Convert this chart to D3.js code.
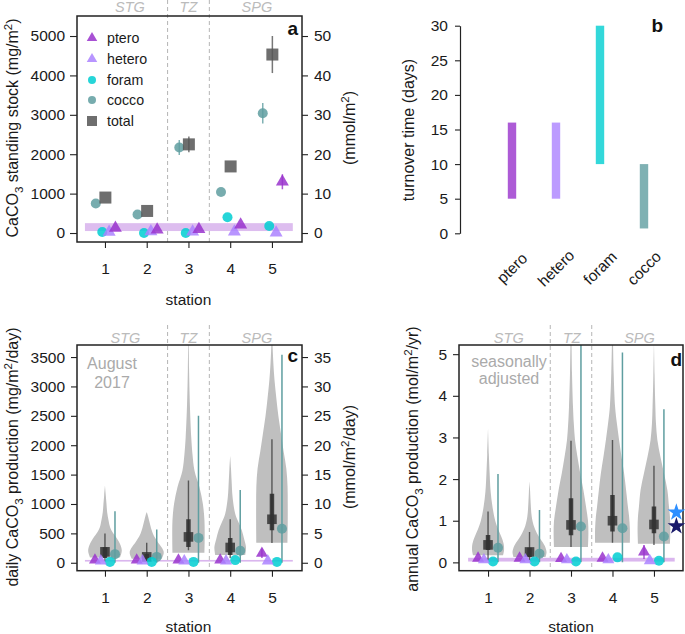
<!DOCTYPE html>
<html><head><meta charset="utf-8">
<script src="https://cdn.jsdelivr.net/npm/d3@7"></script>
<style>body{margin:0;background:#fff} text{font-family:"Liberation Sans",Arial,Helvetica,sans-serif}</style>
</head><body><svg id="chart" width="685" height="634"></svg>
<script>
// ---------------- DATA ----------------
const stations = [1, 2, 3, 4, 5];
const regionNames = ["STG", "TZ", "SPG"];
const regionBounds = [2.5, 3.5];
const species = ["ptero", "hetero", "foram", "cocco", "total"];

// panel a: standing stock (mg/m2)
const aPtero = [130, 80, 95, 210, 1300];
const aPteroErr = [0, 0, 0, 0, 190];
const aHetero = [25, 40, 35, 30, 5];
const aForam = [25, 0, 0, 400, 180];
const aCocco = [750, 470, 2170, 1040, 3040];
const aCoccoErr = [0, 0, 190, 0, 260];
const aTotal = [900, 560, 2250, 1690, 4530];
const aTotalErr = [0, 0, 200, 0, 470];
const aBand = [50, 250];
const aTicks = [0, 1000, 2000, 3000, 4000, 5000];
const aTicksR = [0, 10, 20, 30, 40, 50];

// panel b: turnover time (days)
const bCats = ["ptero", "hetero", "foram", "cocco"];
const bLow = [5, 5, 10, 0.7];
const bHigh = [16, 16, 30, 10];
const bTicks = [0, 5, 10, 15, 20, 25, 30];

// panel c: daily production (mg/m2/day); violin profiles [value, relative density]
const cViolins = [
  [[90,.75],[160,.82],[215,.84],[300,.78],[380,.66],[440,.55],[520,.38],[600,.26],[720,.18],[860,.11],[1010,.075],[1150,.04],[1314,0]],
  [[70,.75],[130,.83],[186,.85],[260,.75],[355,.55],[450,.37],[553,.25],[720,.12],[800,.06],[862,0]],
  [[170,.8],[400,.81],[720,.8],[1005,.72],[1285,.55],[1570,.3],[1850,.2],[2130,.14],[2700,.07],[3300,.03],[3900,.01]],
  [[130,.75],[200,.78],[270,.79],[400,.7],[553,.58],[700,.4],[835,.25],[1115,.12],[1400,.07],[1600,.04],[1820,0]],
  [[340,.78],[700,.79],[1000,.79],[1300,.78],[1600,.72],[1900,.58],[2200,.45],[2500,.32],[2800,.22],[3100,.13],[3400,.07],[3700,.03],[4000,0]]
];
const cWhisker = [[20,500],[30,340],[215,1400],[80,740],[338,2100]];
const cBox = [[80,265],[60,150],[270,740],[130,420],[553,1175]];
const cMedian = [186, 100, 440, 260, 740];
const cCocco = [147, 100, 423, 203, 580];
const cCoccoHi = [875, 565, 2500, 1240, 3540];
const cForam = [15, 15, 15, 45, 15];
const cHetero = [30, 30, 30, 30, 30];
const cPtero = [45, 45, 45, 45, 160];
const cPteroErr = [0, 0, 0, 0, 80];
const cBand = [20, 48];
const cTicks = [0, 500, 1000, 1500, 2000, 2500, 3000, 3500];
const cTicksR = [0, 5, 10, 15, 20, 25, 30, 35];

// panel d: annual production (mol/m2/yr)
const dViolins = [
  [[0.17,.75],[0.3,.8],[0.45,.78],[0.62,.66],[0.8,.5],[1.0,.36],[1.34,.22],[1.7,.13],[2.14,.08],[2.6,.04],[3.22,0]],
  [[0.13,.8],[0.25,.85],[0.4,.76],[0.55,.56],[0.7,.37],[0.9,.2],[1.1,.11],[1.4,.06],[1.7,.03],[1.94,0]],
  [[0.37,.85],[0.7,.87],[1.0,.85],[1.34,.75],[1.74,.62],[2.14,.46],[2.54,.32],[2.94,.2],[3.34,.14],[3.74,.1],[4.55,.05],[5.5,.02]],
  [[0.47,.87],[0.8,.87],[1.1,.83],[1.34,.77],[1.74,.68],[2.14,.58],[2.54,.45],[2.94,.33],[3.34,.22],[3.74,.13],[4.55,.06],[5.5,.02]],
  [[0.45,.8],[0.8,.82],[1.1,.8],[1.34,.75],[1.74,.67],[2.14,.5],[2.54,.32],[2.94,.17],[3.34,.1],[3.74,.07],[4.5,.03],[5.3,0]]
];
const dWhisker = [[0.05,1.22],[0.05,0.73],[0.37,2.92],[0.47,2.94],[0.42,2.32]];
const dBox = [[0.3,0.66],[0.12,0.35],[0.65,1.54],[0.74,1.62],[0.7,1.34]];
const dMedian = [0.42, 0.25, 0.9, 1.0, 0.91];
const dCocco = [0.35, 0.21, 0.86, 0.82, 0.62];
const dCoccoHi = [2.12, 1.26, 5.3, 5.04, 3.68];
const dForam = [0.02, 0.02, 0.02, 0.12, 0.04];
const dHetero = [0.06, 0.06, 0.06, 0.06, 0.04];
const dPtero = [0.1, 0.1, 0.09, 0.1, 0.25];
const dPteroErr = [0, 0, 0, 0, 0.17];
const dBand = [0.02, 0.11];
const dStars = [1.2, 0.87];
const dTicks = [0, 1, 2, 3, 4, 5];

// ---------------- STYLE ----------------
const colors = {ptero:"#9932CC", hetero:"#AB82FF", foram:"#00CED1", cocco:"#5F9EA0", total:"#555555"};
const starColors = ["#2E8FFF", "#1B1B6B"];
const FS = 15.5;
const fmt = d3.format("d");
const svg = d3.select("#chart");

function styleAxis(g){
  g.selectAll("text").attr("font-size", FS).attr("fill", "#1a1a1a");
  g.selectAll("line").attr("stroke", "#222").attr("stroke-width", 1.1);
  g.select(".domain").attr("stroke", "#222").attr("stroke-width", 1.2);
}
function rotLabel(x, y, parts, size){
  const t = svg.append("text").attr("transform", `translate(${x},${y}) rotate(-90)`)
    .attr("text-anchor", "middle").attr("font-size", size).attr("fill", "#1a1a1a");
  let shift = 0;
  parts.forEach(p => {
    const ts = t.append("tspan").text(p[0]);
    let target = p[1] === "sub" ? size*0.3 : p[1] === "sup" ? -size*0.4 : 0;
    if (target !== shift) { ts.attr("dy", target - shift); shift = target; }
    if (p[1]) ts.attr("font-size", size*0.72);
  });
}
function marker(g, kind, cx, cy, s, op){
  const col = colors[kind];
  op = op == null ? 0.85 : op;
  if (kind === "ptero" || kind === "hetero") {
    g.append("path").attr("d", d3.symbol(d3.symbolTriangle, 0.433*s*s)())
      .attr("transform", `translate(${cx},${cy})`).attr("fill", col).attr("fill-opacity", op);
  } else if (kind === "total") {
    g.append("rect").attr("x", cx - s/2).attr("y", cy - s/2).attr("width", s).attr("height", s)
      .attr("fill", col).attr("fill-opacity", op);
  } else {
    g.append("circle").attr("cx", cx).attr("cy", cy).attr("r", s/2).attr("fill", col).attr("fill-opacity", op);
  }
}
function errBar(g, cx, y1, y2, col){
  g.append("line").attr("x1", cx).attr("x2", cx).attr("y1", y1).attr("y2", y2)
    .attr("stroke", col).attr("stroke-width", 1.5).attr("stroke-opacity", 0.8);
}
function regionMarks(g, x, y1, y2, labelY, pos){
  regionBounds.forEach(b => g.append("line").attr("x1", x(b)).attr("x2", x(b)).attr("y1", y1).attr("y2", y2)
    .attr("stroke", "#b5b5b5").attr("stroke-width", 1).attr("stroke-dasharray", "4,3"));
  regionNames.forEach((n, i) => g.append("text").attr("x", x(pos[i])).attr("y", labelY)
    .attr("text-anchor", "middle").attr("font-style", "italic").attr("font-size", 14.5)
    .attr("fill", "#bbbbbb").text(n));
}
function frame(g, l, r, t, b){
  g.append("rect").attr("x", l).attr("y", t).attr("width", r - l).attr("height", b - t)
    .attr("fill", "none").attr("stroke", "#222").attr("stroke-width", 1.5);
}
function panelLetter(x, y, s){
  svg.append("text").attr("x", x).attr("y", y).attr("text-anchor", "end").attr("font-weight", "bold")
    .attr("font-size", 19).attr("fill", "#111").text(s);
}

// ---------------- PANEL A ----------------
(function(){
  const L = 77, R = 302, T = 16, B = 242;
  const x = d3.scaleLinear().domain([0.33, 5.72]).range([L, R]);
  const y = d3.scaleLinear().domain([-228, 5508]).range([B, T]);
  const yR = d3.scaleLinear().domain([-2.28, 55.08]).range([B, T]);
  const g = svg.append("g");
  regionMarks(g, x, 0, B, 12, [1.6, 3.0, 4.64]);
  g.append("rect").attr("x", x(0.52)).attr("width", x(5.5) - x(0.52))
    .attr("y", y(aBand[1])).attr("height", y(aBand[0]) - y(aBand[1])).attr("fill", "#DDBDEF");
  const off = {cocco:-0.22, foram:-0.065, total:0.01, hetero:0.1, ptero:0.25};
  const sz = {cocco:10, foram:10, total:12, hetero:13, ptero:13};
  const vals = {ptero:aPtero, hetero:aHetero, foram:aForam, cocco:aCocco, total:aTotal};
  const errs = {ptero:aPteroErr, cocco:aCoccoErr, total:aTotalErr};
  ["cocco","total","foram","hetero","ptero"].forEach(k => {
    stations.forEach((s, i) => {
      const cx = x(s + off[k]);
      if (errs[k] && errs[k][i] > 0) errBar(g, cx, y(vals[k][i] - errs[k][i]), y(vals[k][i] + errs[k][i]), colors[k]);
      marker(g, k, cx, y(vals[k][i]), sz[k]);
    });
  });
  frame(g, L, R, T, B);
  const ax = g.append("g").attr("transform", `translate(${L},0)`)
    .call(d3.axisLeft(y).tickValues(aTicks).tickFormat(fmt).tickSize(7).tickPadding(5).tickSizeOuter(0));
  ax.select(".domain").remove(); styleAxis(ax);
  const axR = g.append("g").attr("transform", `translate(${R},0)`)
    .call(d3.axisRight(yR).tickValues(aTicksR).tickFormat(fmt).tickSize(6).tickPadding(6).tickSizeOuter(0));
  axR.select(".domain").remove(); styleAxis(axR);
  const axB = g.append("g").attr("transform", `translate(0,${B})`)
    .call(d3.axisBottom(x).tickValues(stations).tickSize(6).tickPadding(15).tickFormat(fmt));
  axB.select(".domain").remove(); styleAxis(axB);
  svg.append("text").attr("x", x(3)).attr("y", 305).attr("text-anchor", "middle")
    .attr("font-size", FS).attr("fill", "#1a1a1a").text("station");
  rotLabel(18, 128, [["CaCO"],["3","sub"],[" standing stock (mg/m"],["2","sup"],[")"]], 16);
  rotLabel(355, 128, [["(mmol/m"],["2","sup"],[")"]], 16);
  const lg = svg.append("g");
  const legY = [38, 59, 80, 100, 121];
  const legS = {ptero:10.5, hetero:10.5, foram:8, cocco:8, total:10};
  species.forEach((k, i) => {
    marker(lg, k, 92, legY[i], legS[k]);
    lg.append("text").attr("x", 107).attr("y", legY[i] + 5).attr("font-size", 14.2).attr("fill", "#1a1a1a").text(k);
  });
  panelLetter(298, 35, "a");
})();

// ---------------- PANEL B ----------------
(function(){
  const y = d3.scaleLinear().domain([0, 30]).range([233.3, 25.7]);
  const x = d3.scalePoint().domain(bCats).range([512, 644]);
  const g = svg.append("g");
  bCats.forEach((c, i) => {
    g.append("rect").attr("x", x(c) - 4.2).attr("width", 8.4)
      .attr("y", y(bHigh[i])).attr("height", y(bLow[i]) - y(bHigh[i]))
      .attr("fill", colors[c]).attr("fill-opacity", 0.8);
    g.append("text").attr("transform", `translate(${x(c)},268) rotate(-45)`)
      .attr("text-anchor", "middle").attr("dy", "0.35em").attr("font-size", FS).attr("fill", "#1a1a1a").text(c);
  });
  const ax = g.append("g").attr("transform", "translate(460,0)")
    .call(d3.axisLeft(y).tickValues(bTicks).tickFormat(fmt).tickSize(5).tickPadding(7).tickSizeOuter(0));
  styleAxis(ax);
  rotLabel(414, 130, [["turnover time (days)"]], 16);
  panelLetter(663, 32, "b");
})();

// ---------------- PANELS C & D ----------------
function violinPanel(o){
  const g = svg.append("g");
  const x = d3.scaleLinear().domain(o.xDom).range([o.L, o.R]);
  const y = d3.scaleLinear().domain(o.yDom).range([o.B, o.T]);
  const w = d3.scaleLinear().domain([0, 1]).range([0, 20]);
  const clipId = "clip" + o.letter;
  svg.append("clipPath").attr("id", clipId).append("rect")
    .attr("x", o.L).attr("y", o.T).attr("width", o.R - o.L).attr("height", o.B - o.T);
  regionMarks(g, x, 325, o.B, 343, o.regionPos);
  const inner = g.append("g").attr("clip-path", `url(#${clipId})`);
  o.violins.forEach((prof, i) => {
    const cx = x(stations[i]);
    const area = d3.area().curve(d3.curveCatmullRom.alpha(0.5))
      .y(d => y(d[0])).x0(d => cx - w(d[1])).x1(d => cx + w(d[1]));
    inner.append("path").attr("d", area(prof)).attr("fill", "#bfbfbf");
  });
  inner.append("rect").attr("x", x(0.52)).attr("width", x(5.5) - x(0.52))
    .attr("y", y(o.band[1])).attr("height", y(o.band[0]) - y(o.band[1])).attr("fill", "#DAB6EE");
  stations.forEach((s, i) => {
    const cx = x(s);
    inner.append("line").attr("x1", cx).attr("x2", cx).attr("y1", y(o.whisk[i][0])).attr("y2", y(o.whisk[i][1]))
      .attr("stroke", "#333").attr("stroke-opacity", 0.75).attr("stroke-width", 1.4);
    inner.append("line").attr("x1", cx).attr("x2", cx).attr("y1", y(o.box[i][0])).attr("y2", y(o.box[i][1]))
      .attr("stroke", "#2a2a2a").attr("stroke-opacity", 0.85).attr("stroke-width", 4.5);
    inner.append("rect").attr("x", cx - 4.8).attr("y", y(o.med[i]) - 4.8).attr("width", 9.6).attr("height", 9.6)
      .attr("fill", "#333").attr("fill-opacity", 0.85);
  });
  stations.forEach((s, i) => {
    const cx = x(s + 0.24);
    inner.append("line").attr("x1", cx).attr("x2", cx).attr("y1", y(0)).attr("y2", y(o.coccoHi[i]))
      .attr("stroke", colors.cocco).attr("stroke-width", 1.5);
    marker(inner, "cocco", cx, y(o.cocco[i]), 10);
  });
  stations.forEach((s, i) => {
    marker(inner, "foram", x(s + 0.12), y(o.foram[i]), 10);
  });
  stations.forEach((s, i) => {
    marker(inner, "ptero", x(s - 0.24), y(o.ptero[i]), 12);
    if (o.pteroErr[i] > 0) errBar(inner, x(s - 0.24), y(o.ptero[i] - o.pteroErr[i]), y(o.ptero[i] + o.pteroErr[i]), colors.ptero);
  });
  stations.forEach((s, i) => {
    marker(inner, "hetero", x(s - 0.1), y(o.hetero[i]), 12);
  });
  frame(g, o.L, o.R, o.T, o.B);
  const ax = g.append("g").attr("transform", `translate(${o.L},0)`)
    .call(d3.axisLeft(y).tickValues(o.ticks).tickFormat(fmt).tickSize(6).tickPadding(6).tickSizeOuter(0));
  ax.select(".domain").remove(); styleAxis(ax);
  if (o.ticksR) {
    const yR = d3.scaleLinear().domain(o.yDom.map(v => v / 100)).range([o.B, o.T]);
    const axR = g.append("g").attr("transform", `translate(${o.R},0)`)
      .call(d3.axisRight(yR).tickValues(o.ticksR).tickFormat(fmt).tickSize(6).tickPadding(6).tickSizeOuter(0));
    axR.select(".domain").remove(); styleAxis(axR);
  }
  const axB = g.append("g").attr("transform", `translate(0,${o.B})`)
    .call(d3.axisBottom(x).tickValues(stations).tickSize(6).tickPadding(15).tickFormat(fmt));
  axB.select(".domain").remove(); styleAxis(axB);
  svg.append("text").attr("x", x(3)).attr("y", 632).attr("text-anchor", "middle")
    .attr("font-size", FS).attr("fill", "#1a1a1a").text("station");
  return {x, y, g};
}

(function(){
  const p = violinPanel({letter:"c", L:77, R:302, T:345, B:570.7, xDom:[0.33, 5.72], yDom:[-135, 3705],
    violins:cViolins, whisk:cWhisker, box:cBox, med:cMedian, cocco:cCocco, coccoHi:cCoccoHi,
    foram:cForam, hetero:cHetero, ptero:cPtero, pteroErr:cPteroErr, band:cBand,
    ticks:cTicks, ticksR:cTicksR, regionPos:[1.49, 3.0, 4.64]});
  p.g.append("text").attr("x", 112).attr("y", 369).attr("text-anchor", "middle").attr("font-size", 16)
    .attr("fill", "#aaaaaa").text("August");
  p.g.append("text").attr("x", 112).attr("y", 388).attr("text-anchor", "middle").attr("font-size", 16)
    .attr("fill", "#aaaaaa").text("2017");
  rotLabel(18, 457, [["daily CaCO"],["3","sub"],[" production (mg/m"],["2","sup"],["/day)"]], 16);
  rotLabel(355, 457, [["(mmol/m"],["2","sup"],["/day)"]], 16);
  panelLetter(298, 362, "c");
})();

(function(){
  const p = violinPanel({letter:"d", L:459, R:683, T:345, B:570.7, xDom:[0.3, 5.7], yDom:[-0.2, 5.22],
    violins:dViolins, whisk:dWhisker, box:dBox, med:dMedian, cocco:dCocco, coccoHi:dCoccoHi,
    foram:dForam, hetero:dHetero, ptero:dPtero, pteroErr:dPteroErr, band:dBand,
    ticks:dTicks, ticksR:null, regionPos:[1.5, 3.02, 4.65]});
  dStars.forEach((v, i) => {
    p.g.append("path").attr("d", d3.symbol(d3.symbolStar, 95)())
      .attr("transform", `translate(${p.x(5.54)},${p.y(v)})`).attr("fill", starColors[i]);
  });
  p.g.append("text").attr("x", 509).attr("y", 367).attr("text-anchor", "middle").attr("font-size", 16)
    .attr("fill", "#aaaaaa").text("seasonally");
  p.g.append("text").attr("x", 509).attr("y", 384).attr("text-anchor", "middle").attr("font-size", 16)
    .attr("fill", "#aaaaaa").text("adjusted");
  rotLabel(418, 459, [["annual CaCO"],["3","sub"],[" production (mol/m"],["2","sup"],["/yr)"]], 16);
  panelLetter(682, 366, "d");
})();
</script></body></html>
